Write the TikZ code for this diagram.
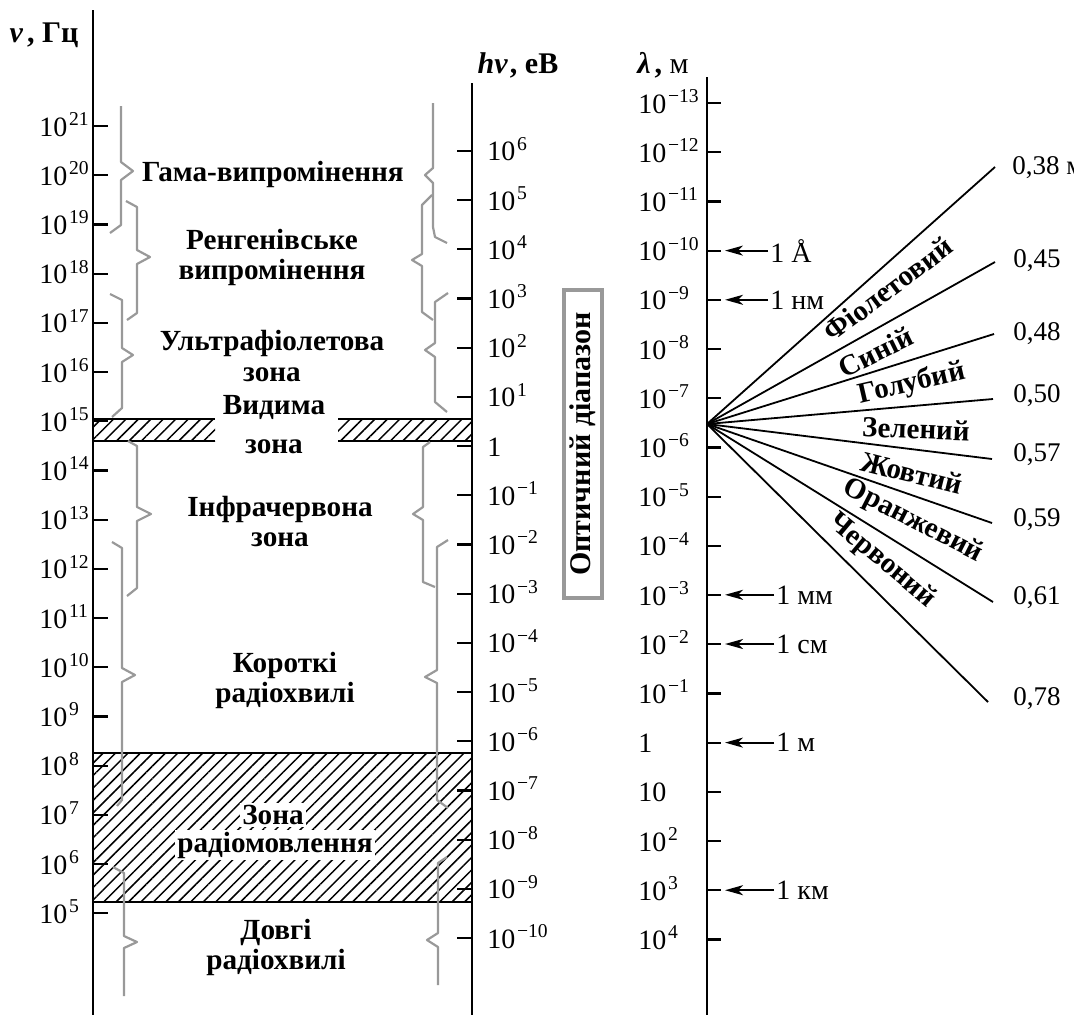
\documentclass[tikz,border=0pt]{standalone}
\usepackage{fontspec}
\setmainfont{Liberation Serif}
\usetikzlibrary{arrows.meta,patterns.meta,positioning}

\newcommand{\tenp}[1]{10\kern0.8pt\textsuperscript{#1}}

\tikzset{
  axis/.style={line width=1.3pt},
  tickline/.style={line width=1.1pt},
  zone/.style={font=\bfseries\fontsize{14.6}{15}\selectfont,align=center,inner sep=1pt},
  tlab/.style={font=\fontsize{14}{14}\selectfont,inner sep=0pt,anchor=base west},
  brc/.style={draw=black!40,line width=1.1pt,line join=round},
  band/.style={pattern={Lines[angle=45,distance=4.4pt,line width=0.75pt]}},
  bandedge/.style={line width=1.3pt},
  ray/.style={line width=0.9pt},
  colname/.style={font=\bfseries\fontsize{14.5}{14.5}\selectfont,inner sep=0pt},
  val/.style={font=\fontsize{13.5}{13.5}\selectfont,anchor=base west,inner sep=0pt},
  unitlab/.style={font=\fontsize{14}{14}\selectfont,anchor=west,inner sep=1pt},
  ptr/.style={-{Stealth[length=9pt,width=5pt,inset=2.5pt]},line width=0.9pt},
  ttl/.style={font=\bfseries\fontsize{15}{15}\selectfont,anchor=base,inner sep=0pt}
}

\begin{document}
\begin{tikzpicture}[x=0.5pt,y=-0.5pt]
\useasboundingbox (0,0) rectangle (1074,1018);

% hatched bands
\fill[band] (93,753) rectangle (472,902);
\draw[bandedge] (93,753) -- (472,753) (93,902) -- (472,902);
\fill[band] (93,419) rectangle (215,441);
\fill[band] (338,419) rectangle (472,441);
\draw[bandedge] (93,419) -- (215,419) (93,441) -- (215,441)
  (338,419) -- (472,419) (338,441) -- (472,441);

% braces, left side
\draw[brc] (121,106) -- (121,162) -- (133,171) -- (121,180) -- (121,225) -- (110,233);
\draw[brc] (126,201) -- (137,207) -- (137,250) -- (150,257) -- (137,264) -- (137,313) -- (127,320);
\draw[brc] (110,294) -- (122,300) -- (122,348) -- (133,355) -- (122,362) -- (122,408) -- (112,417);
\draw[brc] (128,441) -- (137,446) -- (137,507) -- (151,514) -- (137,521) -- (137,588) -- (127,596);
\draw[brc] (112,542) -- (122,548) -- (122,668) -- (135,675) -- (122,682) -- (122,800) -- (117,806);
\draw[brc] (113,867) -- (124,873) -- (124,936) -- (137,942) -- (124,948) -- (124,996);
% braces, right side
\draw[brc] (433,103) -- (433,168) -- (425,175) -- (433,183) -- (433,227) -- (435,237) -- (447,243);
\draw[brc] (432,195) -- (422,205) -- (422,254) -- (412,260) -- (422,266) -- (422,312) -- (433,320);
\draw[brc] (448,293) -- (435,302) -- (435,343) -- (425,350) -- (435,357) -- (435,402) -- (447,412);
\draw[brc] (430,442) -- (423,447) -- (423,507) -- (413,514) -- (423,520) -- (423,582) -- (435,587);
\draw[brc] (448,540) -- (437,547) -- (437,670) -- (425,677) -- (437,683) -- (437,800) -- (448,808);
\draw[brc] (447,857) -- (438,863) -- (438,933) -- (427,940) -- (438,947) -- (438,985);

% zone names
\node[zone] (gam) at (273,174) {Гама-випромінення};
\node[zone] (xr) at (272,257) {Ренгенівське\\випромінення};
\node[zone] (uv) at (272,356) {Ультрафіолетова\\зона};
\node[zone] (vis) at (274,425) {Видима\\[4.5pt]зона};
\node[zone] (ir) at (280,521) {Інфрачервона\\зона};
\node[zone] (sw) at (285,680) {Короткі\\радіохвилі};
\node[zone,fill=white] (bc1) at (273,815) {Зона};
\node[zone,fill=white] (bc2) at (275,845) {радіомовлення};
\node[zone] (lw) at (276,947) {Довгі\\радіохвилі};

% axes
\coordinate (nuT) at (93,10); \coordinate (nuB) at (93,1015);
\coordinate (hvT) at (472,83); \coordinate (hvB) at (472,1015);
\coordinate (laT) at (707,77); \coordinate (laB) at (707,1015);
\draw[axis] (nuT) -- (nuB);
\draw[axis] (hvT) -- (hvB);
\draw[axis] (laT) -- (laB);
\node[ttl] (nuttl) at (44,42) {\textit{ν}\kern2pt, Гц};
\node[ttl] (hvttl) at (518,73) {\textit{hν}\kern1pt, eB};
\node[ttl] (lattl) at (663,73) {\textit{λ}\kern2pt, \mdseries м};

% ticks
\foreach \k in {21,20,...,5}{
  \pgfmathsetmacro\yy{126+49.2*(21-\k)}
  \draw[tickline] (93,\yy) -- (108,\yy);
  \node[tlab] (nu\k) at (39,\yy+10) {\tenp{\k}};
}
\foreach \m in {6,5,...,-10}{
  \pgfmathsetmacro\yy{446-49.2*\m}
  \pgfmathtruncatemacro\a{abs(\m)}
  \draw[tickline] (457,\yy) -- (472,\yy);
  \node[tlab] (hv\m) at (487,\yy+10)
    {\ifnum\m=0 1\else\ifnum\m<0 \tenp{−\a}\else\tenp{\m}\fi\fi};
}
\foreach \k in {-13,-12,...,4}{
  \pgfmathsetmacro\yy{103+49.2*(\k+13)}
  \pgfmathtruncatemacro\a{abs(\k)}
  \draw[tickline] (707,\yy) -- (721,\yy);
  \node[tlab] (la\k) at (638,\yy+10)
    {\ifnum\k=0 1\else\ifnum\k=1 10\else\ifnum\k<0 \tenp{−\a}\else\tenp{\k}\fi\fi\fi};
}

% optical range
\node[draw=black!40,line width=1.6pt,rotate=90,font=\bfseries\fontsize{15}{15}\selectfont,
  minimum width=154pt,minimum height=19pt,inner sep=0pt] (opt) at (583,444) {Оптичний діапазон};

% unit pointers
\coordinate (uA) at (725,250.6);
\coordinate (unm) at (725,299.8);
\coordinate (umm) at (725,594.8);
\coordinate (ucm) at (725,644);
\coordinate (um) at (725,742.6);
\coordinate (ukm) at (725,890.2);
\node[unitlab] (lA) at (768,250.6) {1 Å};
\node[unitlab] (lnm) at (768,299.8) {1 нм};
\node[unitlab] (lmm) at (774,594.8) {1 мм};
\node[unitlab] (lcm) at (774,644) {1 см};
\node[unitlab] (lm) at (774,742.6) {1 м};
\node[unitlab] (lkm) at (774,890.2) {1 км};
\foreach \u in {A,nm,mm,cm,m,km} \draw[ptr] (l\u.west) -- (u\u);

% visible spectrum fan
\coordinate (F) at (707,424);
\coordinate (e38) at (995,167);
\coordinate (e45) at (995,262);
\coordinate (e48) at (994,334);
\coordinate (e50) at (993,399);
\coordinate (e57) at (992,459);
\coordinate (e59) at (992,523);
\coordinate (e61) at (993,602);
\coordinate (e78) at (988,702);
\foreach \e in {38,45,48,50,57,59,61,78} \draw[ray] (F) -- (e\e);
\node[val] (v38) at (1012,174) {0,38 м};
\node[val] (v45) at (1013,267) {0,45};
\node[val] (v48) at (1013,340) {0,48};
\node[val] (v50) at (1013,402) {0,50};
\node[val] (v57) at (1013,461) {0,57};
\node[val] (v59) at (1013,526) {0,59};
\node[val] (v61) at (1013,604) {0,61};
\node[val] (v78) at (1013,705) {0,78};
\node[colname,rotate=37] (c1) at (888,289) {Фіолетовий};
\node[colname,rotate=26] (c2) at (876,352) {Синій};
\node[colname,rotate=13] (c3) at (912,384) {Голубий};
\node[colname,rotate=-2] (c4) at (916,429) {Зелений};
\node[colname,rotate=-14] (c5) at (912,473) {Жовтий};
\node[colname,rotate=-27] (c6) at (913,521) {Оранжевий};
\node[colname,rotate=-40] (c7) at (882,561) {Червоний};
\end{tikzpicture}
\end{document}
